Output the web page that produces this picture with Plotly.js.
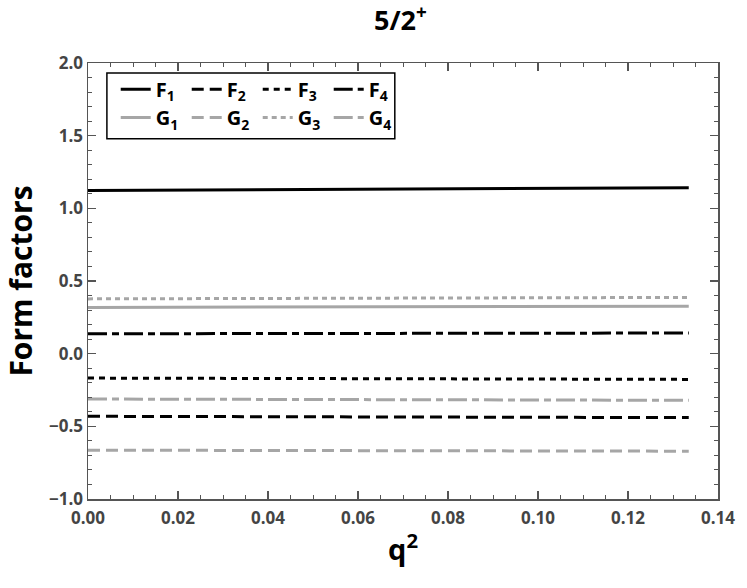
<!DOCTYPE html>
<html>
<head>
<meta charset="utf-8">
<script src="https://cdn.plot.ly/plotly-3.0.1.min.js"></script>
<style>html,body{margin:0;padding:0;background:#fff;}#chart{width:747px;height:588px;}</style>
</head>
<body>
<div id="chart"></div>
<script>
// q^2 sample points
const q2 = [0, 0.0667, 0.1335];
// Form factor values
const F1 = [1.123, 1.133, 1.142];
const F2 = [-0.431, -0.436, -0.440];
const F3 = [-0.168, -0.173, -0.177];
const F4 = [0.137, 0.140, 0.142];
const G1 = [0.318, 0.322, 0.327];
const G2 = [-0.664, -0.668, -0.671];
const G3 = [0.377, 0.382, 0.387];
const G4 = [-0.312, -0.317, -0.321];

const names = ['F<sub>1</sub>','F<sub>2</sub>','F<sub>3</sub>','F<sub>4</sub>',
               'G<sub>1</sub>','G<sub>2</sub>','G<sub>3</sub>','G<sub>4</sub>'];
const series = [F1,F2,F3,F4,G1,G2,G3,G4];
const dashes = ['solid','12px,6px','6px,5px','19px,5px,7px,5px',
                'solid','12px,6px','5px,4px','19px,5px,7px,5px'];
const black = '#000000', gray = '#a6a6a6';

const traces = series.map((s,i)=>({
  x: q2, y: s, type:'scatter', mode:'lines', name: names[i],
  line:{color: i<4?black:gray, width: 3, dash: dashes[i]},
  legend: i<4 ? 'legend' : 'legend2',
  hoverinfo:'skip'
}));

const tickFont = {family:'Open Sans, sans-serif', size:17, color:'#444444', weight:700};
const axisCommon = {
  showline:true, linecolor:'#555555', linewidth:1.5, mirror:'allticks',
  ticks:'inside', ticklen:8, tickwidth:1.3, tickcolor:'#555555',
  showgrid:false, zeroline:false, tickfont:tickFont
};

const legendCommon = {
  orientation:'h', xanchor:'left', yanchor:'middle',
  bgcolor:'rgba(0,0,0,0)', borderwidth:0,
  entrywidth:26, entrywidthmode:'pixels',
  font:{family:'Open Sans, sans-serif', size:20, color:'#000', weight:700},
  itemwidth:30
};

const layout = {
  width:747, height:588,
  margin:{l:88, r:29, t:63, b:89},
  paper_bgcolor:'#fff', plot_bgcolor:'#fff',
  title:{text:'5/2<sup>+</sup>', x:0.536, xanchor:'center', y:0.965, yanchor:'middle',
         font:{family:'Open Sans, sans-serif', size:27, color:'#000', weight:700}},
  xaxis:Object.assign({}, axisCommon, {
    range:[0,0.14], dtick:0.02, tickformat:'.2f', ticklabelstandoff:3,
    minor:{dtick:0.005, ticks:'inside', ticklen:4, tickcolor:'#555555', tickwidth:1},
    title:{text:'q<sup>2</sup>', standoff:12,
           font:{family:'Open Sans, sans-serif', size:29, color:'#000', weight:700}}
  }),
  yaxis:Object.assign({}, axisCommon, {
    range:[-1,2], dtick:0.5, tickformat:'.1f',
    minor:{dtick:0.1, ticks:'inside', ticklen:4, tickcolor:'#555555', tickwidth:1},
    title:{text:'Form factors', standoff:13,
           font:{family:'Open Sans, sans-serif', size:30, color:'#000', weight:700}}
  }),
  legend:Object.assign({}, legendCommon, {x:0.044, y:0.94}),
  legend2:Object.assign({}, legendCommon, {x:0.044, y:0.875}),
  shapes:[{type:'rect', xref:'paper', yref:'paper', x0:0.030, x1:0.487, y0:0.826, y1:0.977,
           line:{color:'#000', width:1.5}, fillcolor:'rgba(0,0,0,0)'}],
  showlegend:true
};

Plotly.newPlot('chart', traces, layout, {displayModeBar:false, staticPlot:true});
</script>
</body>
</html>
